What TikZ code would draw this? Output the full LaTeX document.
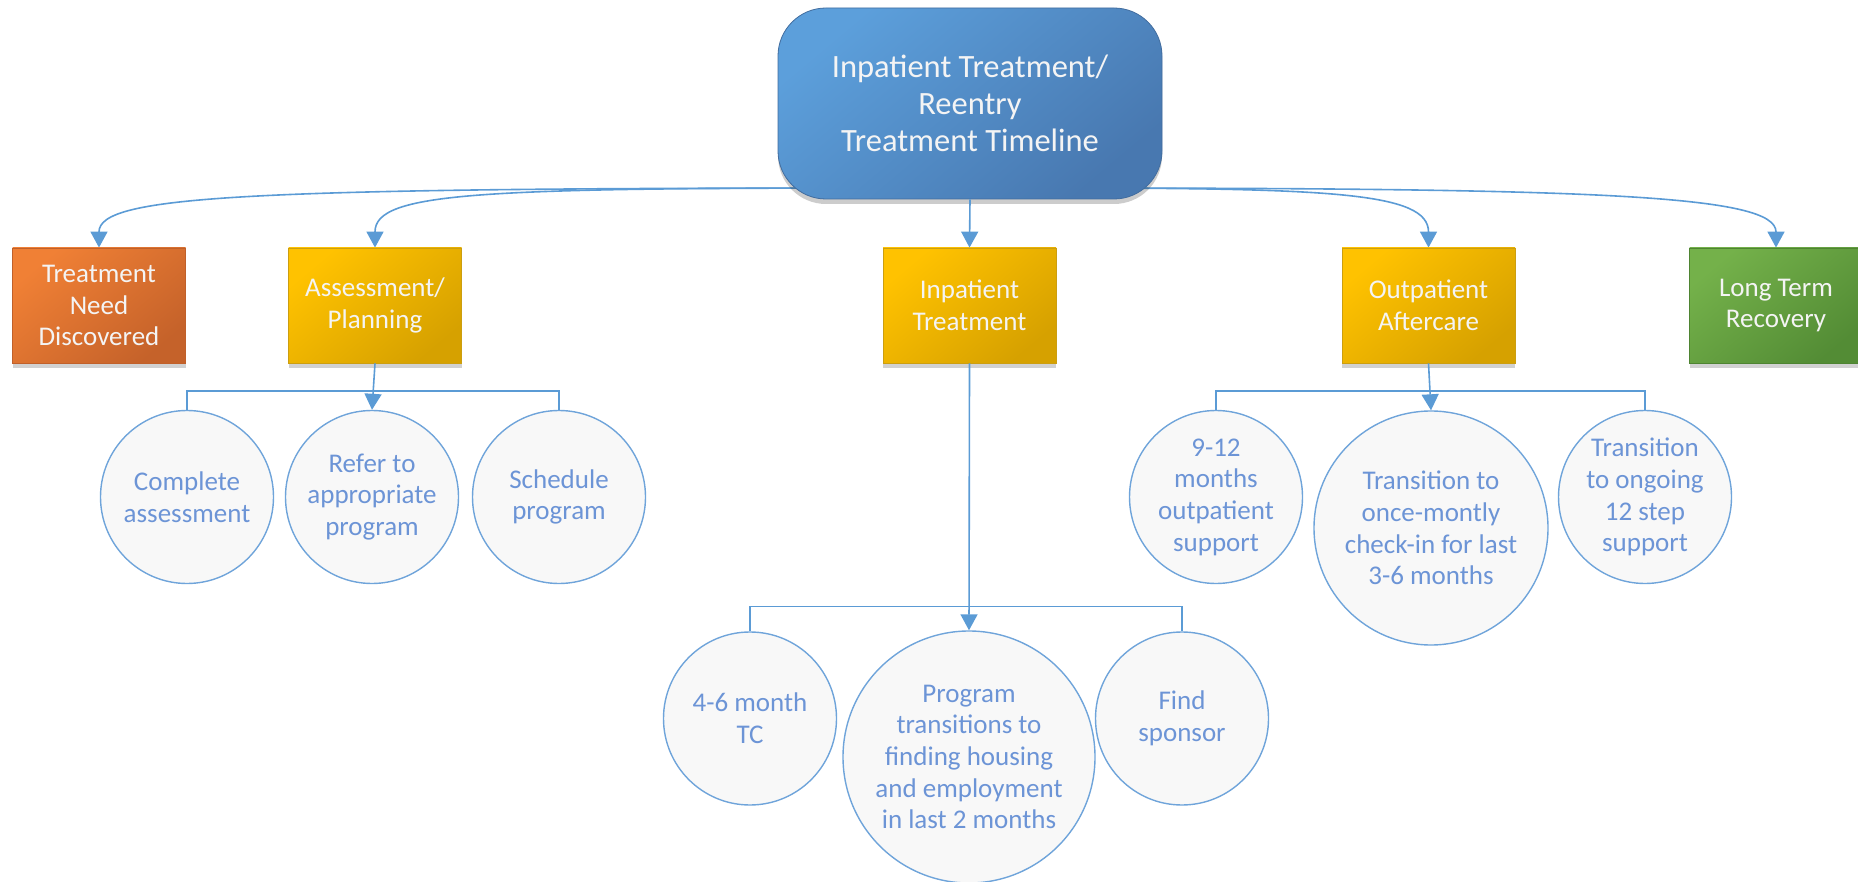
\documentclass[tikz,border=0pt]{standalone}
\usepackage{fontspec}
\setmainfont{Carlito}
\usetikzlibrary{arrows.meta,shadows}
\pgfdeclarelayer{background}
\pgfsetlayers{background,main}
\definecolor{conncol}{HTML}{5B9BD5}
\definecolor{topA}{HTML}{5C9FDB}
\definecolor{topB}{HTML}{4878B0}
\definecolor{orA}{HTML}{F08035}
\definecolor{orB}{HTML}{C5622A}
\definecolor{orE}{HTML}{C0602A}
\definecolor{goA}{HTML}{FFC200}
\definecolor{goB}{HTML}{D6A100}
\definecolor{goE}{HTML}{CC9E10}
\definecolor{grA}{HTML}{74B14A}
\definecolor{grB}{HTML}{538C35}
\definecolor{grE}{HTML}{4E8432}
\definecolor{circfill}{HTML}{F8F8F8}
\definecolor{circedge}{HTML}{6FA4DA}
\definecolor{circtext}{HTML}{6C94D6}
\definecolor{boxtext}{HTML}{F4F4F4}
\tikzset{
  conn/.style={draw=conncol, line width=1.6pt, -{Triangle[width=17pt,length=16pt]}},
  brack/.style={draw=conncol, line width=1.6pt},
  stagebox/.style={rectangle, minimum width=173pt, minimum height=115pt, inner sep=0pt,
     align=center, text=boxtext, font=\fontsize{27}{31.7}\selectfont,
     drop shadow={shadow xshift=0pt, shadow yshift=-5pt, opacity=0.18, fill=black}},
  orangebox/.style={stagebox, top color=orA, bottom color=orB, shading angle=40, draw=orE, line width=0.8pt},
  goldbox/.style={stagebox, top color=goA, bottom color=goB, shading angle=40, draw=goE, line width=0.8pt},
  greenbox/.style={stagebox, top color=grA, bottom color=grB, shading angle=40, draw=grE, line width=0.8pt},
  stepcirc/.style={circle, fill=circfill, draw=circedge, line width=1.4pt, inner sep=0pt,
     align=center, text=circtext, font=\fontsize{27}{31.7}\selectfont},
  smallcirc/.style={stepcirc, minimum size=173pt},
}
\begin{document}
\begin{tikzpicture}[x=1pt, y=-1pt]
\useasboundingbox (0,0) rectangle (1858,882);
% title
\node[rounded corners=48pt, minimum width=384pt, minimum height=191pt, inner sep=0pt,
      top color=topA, bottom color=topB, shading angle=40, draw=topB!90!black, line width=0.8pt,
      align=center, text=boxtext, font=\fontsize{32.5}{37}\selectfont,
      drop shadow={shadow xshift=0pt, shadow yshift=-5pt, opacity=0.2, fill=black}]
      (top) at (970,103.5) {Inpatient Treatment/\\Reentry\\Treatment Timeline};
% stages
\node[orangebox] (tnd) at (99,305.5) {Treatment\\Need\\Discovered};
\node[goldbox] (ap) at (375,305.5) {Assessment/\\Planning};
\node[goldbox] (it) at (969.5,305.5) {Inpatient\\Treatment};
\node[goldbox] (oa) at (1428.5,305.5) {Outpatient\\Aftercare};
\node[greenbox] (ltr) at (1776,305.5) {Long Term\\Recovery};
% circles
\node[smallcirc] (c1) at (187,497) {Complete\\assessment};
\node[smallcirc] (c2) at (372,497) {Refer to\\appropriate\\program};
\node[smallcirc] (c3) at (559,497) {Schedule\\program};
\node[smallcirc] (i1) at (750,718.5) {4-6 month\\TC};
\node[stepcirc, minimum size=252pt] (i2) at (969,757) {Program\\transitions to\\finding housing\\and employment\\in last 2 months};
\node[smallcirc] (i3) at (1182,718.5) {Find\\sponsor};
\node[smallcirc] (o1) at (1216,497) {9-12\\months\\outpatient\\support};
\node[stepcirc, minimum size=234pt] (o2) at (1431,528) {Transition to\\once-montly\\check-in for last\\3-6 months};
\node[smallcirc] (o3) at (1645,497) {Transition\\to ongoing\\12 step\\support};
% connectors from title
\coordinate (tl) at (900,188);
\coordinate (tr) at (1040,188);
\begin{pgfonlayer}{background}
\draw[conn] (tl) .. controls (250,188) and (99,195) .. (tnd.north);
\draw[conn] (tl) .. controls (480,188) and (375,192) .. (ap.north);
\draw[conn] (tr) .. controls (1330,188) and (1428.5,192) .. (oa.north);
\draw[conn] (tr) .. controls (1600,188) and (1776,195) .. (ltr.north);
\end{pgfonlayer}
\draw[conn] (top.south) -- (it.north);
% child connectors
\draw[brack] (c1.north) -- ++(0,-19) -| (c3.north);
\draw[conn] (ap.south) -- (c2.north);
\draw[brack] (i1.north) -- ++(0,-25) -| (i3.north);
\draw[conn] (it.south) -- (i2.north);
\draw[brack] (o1.north) -- ++(0,-19) -| (o3.north);
\draw[conn] (oa.south) -- (o2.north);
\end{tikzpicture}
\end{document}
